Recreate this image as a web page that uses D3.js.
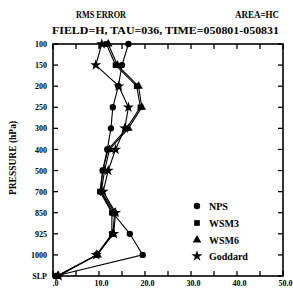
<!DOCTYPE html>
<html>
<head>
<meta charset="utf-8">
<script src="https://cdn.jsdelivr.net/npm/d3@7"></script>
<style>
  body { margin: 0; background: #fff; }
  text { font-family: "Liberation Serif", "DejaVu Serif", serif; font-weight: bold; fill: #000; }
</style>
</head>
<body>
<div id="chart-area"></div>
<script>
// Set up size
width = 293;
height = 289

// pressure levels, top to bottom
let levels = ["100", "150", "200", "250", "300", "400", "500", "700", "850", "925", "1000", "SLP"]
let xTicks = [0, 10, 20, 30, 40, 50]
let xTickLabels = [".0", "10.0", "20.0", "30.0", "40.0", "50.0"]

// rms error for each model at each level
let nps     = [16.4, 15.0, 14.2, 13.0, 12.6, 11.8, 10.8, 10.4, 13.0, 16.7, 19.5, 0.5]
let wsm3    = [11.6, 13.6, 18.2, 19.0, 16.0, 12.0, 10.8, 10.2, 12.8, 12.8, 9.5, 0.8]
let wsm6    = [12.0, 14.0, 18.6, 19.3, 16.4, 12.3, 11.2, 10.5, 13.4, 13.0, 9.7, 1.0]
let goddard = [10.6, 9.3, 14.3, 16.4, 15.6, 13.6, 12.0, 10.9, 13.6, 13.2, 9.4, 1.2]

let seriesNames = ["NPS", "WSM3", "WSM6", "Goddard"]
let seriesValues = [nps, wsm3, wsm6, goddard]
let symbols = [d3.symbolCircle, d3.symbolSquare, d3.symbolTriangle, d3.symbolStar]

let padLeft = 53, padRight = 283, padTop = 44, padBottom = 276

let xScale = d3.scaleLinear().domain([0, 50]).range([padLeft, padRight])
let yScale = d3.scalePoint().domain(levels).range([padTop, padBottom])

svg = d3.select("#chart-area")
  .append("svg")
  .attr("width", width)
  .attr("height", height)

// titles
svg.append("text").attr("x", 101).attr("y", 18).attr("font-size", 10)
  .attr("text-anchor", "middle").attr("textLength", 50).attr("lengthAdjust", "spacingAndGlyphs")
  .text("RMS ERROR")
svg.append("text").attr("x", 279).attr("y", 18).attr("font-size", 10)
  .attr("text-anchor", "end").attr("textLength", 44).attr("lengthAdjust", "spacingAndGlyphs")
  .text("AREA=HC")
svg.append("text").attr("x", 52).attr("y", 34).attr("font-size", 10)
  .attr("textLength", 227).attr("lengthAdjust", "spacingAndGlyphs")
  .text("FIELD=H, TAU=036, TIME=050801-050831")

// frame
svg.append("rect")
  .attr("x", padLeft).attr("y", padTop)
  .attr("width", padRight - padLeft).attr("height", padBottom - padTop)
  .attr("fill", "none").attr("stroke", "#000").attr("stroke-width", 1.6)

// axes, labels only (ticks drawn inwards below)
let xBottom = d3.axisBottom(xScale).tickValues(xTicks)
  .tickFormat((d, i) => xTickLabels[i]).tickSizeInner(0).tickSizeOuter(0).tickPadding(4)
svg.append("g").attr("transform", "translate(2," + padBottom + ")").call(xBottom)

let yLeft = d3.axisLeft(yScale).tickSizeInner(0).tickSizeOuter(0).tickPadding(6)
svg.append("g").attr("transform", "translate(" + padLeft + ",0)").call(yLeft)

svg.selectAll(".domain").remove()
svg.selectAll(".tick text")
  .attr("font-family", "Liberation Serif, DejaVu Serif, serif")
  .attr("font-weight", "bold")
  .attr("font-size", 8)

// inward tick marks
let minor = d3.range(0, 51, 5)
let tickG = svg.append("g").attr("stroke", "#000").attr("stroke-width", 1.3)
minor.forEach(v => {
  tickG.append("line").attr("x1", xScale(v)).attr("x2", xScale(v))
    .attr("y1", padBottom).attr("y2", padBottom - 5)
  tickG.append("line").attr("x1", xScale(v)).attr("x2", xScale(v))
    .attr("y1", padTop).attr("y2", padTop + 5)
})
levels.forEach(l => {
  tickG.append("line").attr("x1", padLeft).attr("x2", padLeft + 5)
    .attr("y1", yScale(l)).attr("y2", yScale(l))
  tickG.append("line").attr("x1", padRight).attr("x2", padRight - 5)
    .attr("y1", yScale(l)).attr("y2", yScale(l))
})

// y title
svg.append("text")
  .attr("transform", "translate(16," + 158 + ") rotate(-90)")
  .attr("text-anchor", "middle").attr("font-size", 9.5)
  .text("PRESSURE (hPa)")

// lines and markers
let line = d3.line()
  .x(d => xScale(d.v))
  .y(d => yScale(d.l))

seriesValues.forEach((vals, s) => {
  let pts = vals.map((v, i) => ({ v: v, l: levels[i] }))
  svg.append("path").datum(pts)
    .attr("d", line)
    .attr("fill", "none").attr("stroke", "#000").attr("stroke-width", 1.1)
  svg.selectAll(".m" + s).data(pts).enter().append("path")
    .attr("class", "m" + s)
    .attr("transform", d => "translate(" + xScale(d.v) + "," + yScale(d.l) + ")")
    .attr("d", d3.symbol().type(symbols[s]).size(s == 3 ? 38 : 32))
    .attr("fill", "#000")
})

// legend
let legendY = [206, 223, 240, 256]
seriesNames.forEach((name, i) => {
  svg.append("path")
    .attr("transform", "translate(197," + legendY[i] + ")")
    .attr("d", d3.symbol().type(symbols[i]).size(i == 3 ? 38 : 32))
    .attr("fill", "#000")
  svg.append("text").attr("x", 209).attr("y", legendY[i] + 3.5)
    .attr("font-size", 10).text(name)
})
</script>
</body>
</html>
